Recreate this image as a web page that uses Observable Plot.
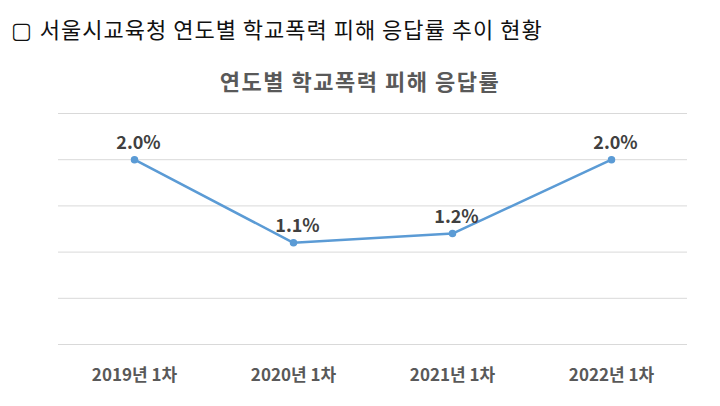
<!DOCTYPE html>
<html>
<head>
<meta charset="utf-8">
<script src="https://cdn.jsdelivr.net/npm/d3@7"></script>
<script src="https://cdn.jsdelivr.net/npm/@observablehq/plot@0.6"></script>
<style>
  html, body { margin: 0; padding: 0; background: #fff; }
  body { width: 720px; height: 406px; overflow: hidden; font-family: "Noto Sans CJK KR", "Noto Sans", sans-serif; }
  #header { height: 56px; line-height: 56px; padding-left: 11px; font-size: 22px; letter-spacing: 1px; color: #111; white-space: nowrap; }
  #header .box { font-family: "DejaVu Sans", sans-serif; font-size: 22px; margin-right: 8px; letter-spacing: 0; }
  #title { height: 48px; line-height: 48px; text-align: center; font-size: 22px; letter-spacing: 1.5px; font-weight: bold; color: #595959; white-space: nowrap; }
  #chart svg { display: block; }
</style>
</head>
<body>
<div id="header"><span class="box">▢</span>서울시교육청 연도별 학교폭력 피해 응답률 추이 현황</div>
<div id="title">연도별 학교폭력 피해 응답률</div>
<div id="chart"></div>
<script>
const categories = ["2019년 1차", "2020년 1차", "2021년 1차", "2022년 1차"];
const values = [2.0, 1.1, 1.2, 2.0];
const valueLabels = ["2.0%", "1.1%", "1.2%", "2.0%"];
const yTicks = [0, 0.5, 1.0, 1.5, 2.0, 2.5];

const data = categories.map((c, i) => ({cat: c, value: values[i], label: valueLabels[i]}));

const chart = Plot.plot({
  width: 720,
  height: 302,
  marginTop: 9,
  marginBottom: 62,
  marginLeft: 58,
  marginRight: 33,
  style: {fontFamily: "'Noto Sans CJK KR', 'Noto Sans', sans-serif", background: "#fff"},
  x: {type: "point", domain: categories, padding: 0.466, label: null, axis: null},
  y: {domain: [0, 2.5], label: null, axis: null},
  marks: [
    Plot.ruleY(yTicks, {stroke: "#d9d9d9", strokeWidth: 1}),
    Plot.axisX({tickSize: 0, tickPadding: 24, fontSize: 17, fontWeight: "bold", fill: "#595959", label: null}),
    Plot.line(data, {x: "cat", y: "value", stroke: "#5B9BD5", strokeWidth: 2.5}),
    Plot.dot(data, {x: "cat", y: "value", r: 3, fill: "#5B9BD5", stroke: "#5B9BD5"}),
    Plot.text(data, {x: "cat", y: "value", text: "label", dx: 4, dy: -11, lineAnchor: "bottom", fontSize: 18, fontWeight: "bold", fill: "#404040"})
  ]
});
document.getElementById("chart").appendChild(chart);
</script>
</body>
</html>
